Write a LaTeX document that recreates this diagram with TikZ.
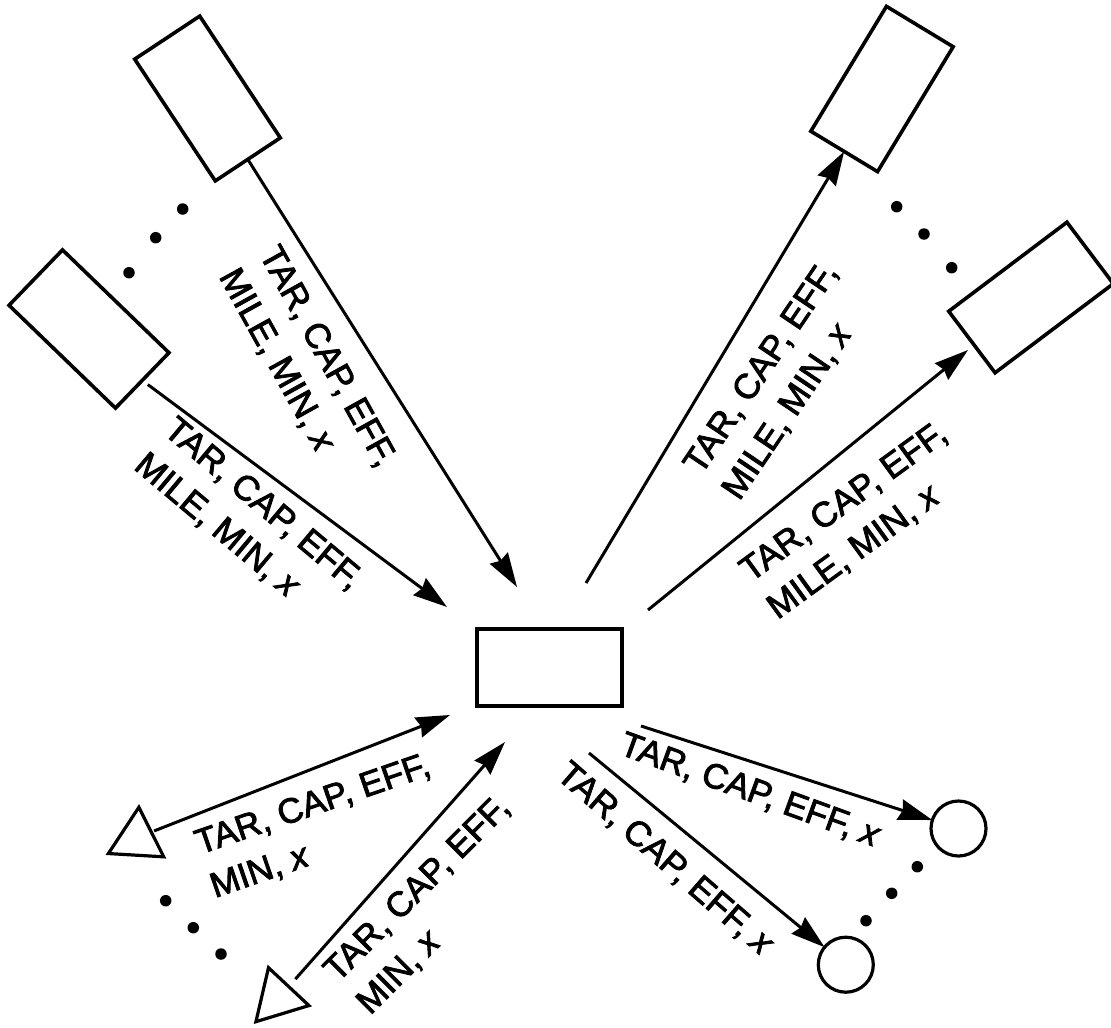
\documentclass[tikz,border=0pt]{standalone}
\usepackage{fontspec}
\setmainfont{Liberation Sans}
\newfontfamily\labfont{Liberation Sans}[FakeBold=2.4]
\usetikzlibrary{arrows.meta,shapes.geometric}
\begin{document}
\begin{tikzpicture}[x=1pt,y=-1pt,
  box/.style={draw,line width=3.6pt,minimum width=146pt,minimum height=78pt,inner sep=0pt,outer sep=0pt},
  tri/.style={draw,line width=3.2pt,regular polygon,regular polygon sides=3,minimum size=64pt,inner sep=0pt,outer sep=0pt},
  sink/.style={draw,line width=3.2pt,circle,minimum size=55pt,inner sep=0pt,outer sep=0pt},
  dot/.style={fill,circle,minimum size=11.5pt,inner sep=0pt},
  conn/.style={line width=3pt,-{Stealth[length=34pt,width=21pt,inset=3pt]}},
  lab/.style={font=\labfont\fontsize{35}{46}\selectfont,align=left,inner sep=0pt}]
\useasboundingbox (0,0) rectangle (1111,1028);
% boxes
\node[box,rotate=-56.5] (tl) at (207.5,98.5) {};
\node[box,rotate=-44,minimum width=148pt,minimum height=77pt] (lr) at (89,329) {};
\node[box,rotate=58.8] (tr) at (882,89) {};
\node[box,rotate=37,minimum width=148pt,minimum height=77pt] (rr) at (1031,297.5) {};
\node[box,minimum width=145pt,minimum height=77pt] (hub) at (549.5,667.5) {};
\node[tri,rotate=-3.4] (t1) at (137,839.2) {};
\node[tri,rotate=16.9] (t2) at (277.8,998.3) {};
\node[sink] (c1) at (958.5,828.5) {};
\node[sink] (c2) at (845.8,964.7) {};
% dots
\node[dot] (d1) at (182.7,209) {};
\node[dot] (d2) at (155.7,237.7) {};
\node[dot] (d3) at (129,272.7) {};
\node[dot] (d4) at (896.7,206.7) {};
\node[dot] (d5) at (924,234) {};
\node[dot] (d6) at (951.7,267.7) {};
\node[dot] (d7) at (165.7,900.7) {};
\node[dot] (d8) at (193.3,927.7) {};
\node[dot] (d9) at (221,954) {};
\node[dot] (d10) at (917.3,866.7) {};
\node[dot] (d11) at (891.7,893.3) {};
\node[dot] (d12) at (866,920.7) {};
% free ends
\coordinate (tlEnd) at (517,587);
\coordinate (lrEnd) at (447,607);
\coordinate (trStart) at (586,583);
\coordinate (rrStart) at (648,610);
\coordinate (rrEnd) at (968,350);
\coordinate (t1End) at (450,715);
\coordinate (t2End) at (505,742);
\coordinate (c1Start) at (641,726);
\coordinate (c2Start) at (589,753);
% connectors
\draw[conn] (tl.east) -- (tlEnd);
\draw[conn,shorten <=7pt] (lr.east) -- (lrEnd);
\draw[conn] (trStart) -- (tr.west);
\draw[conn] (rrStart) -- (rrEnd);
\draw[conn,shorten <=3pt] (t1.side 3) -- (t1End);
\draw[conn,shorten <=10pt] (t2.side 3) -- (t2End);
\draw[conn] (c1Start) -- (c1);
\draw[conn] (c2Start) -- (c2);
% labels
\node[lab,rotate=-61] (la) at (307,368) {TAR, CAP, EFF,\\MILE, MIN, \textit{x}};
\node[lab,rotate=-40] (lb) at (248,522) {TAR, CAP, EFF,\\MILE, MIN, \textit{x}};
\node[lab,rotate=56] (lc) at (780.7,381.3) {TAR, CAP, EFF,\\MILE, MIN, \textit{x}};
\node[lab,rotate=36] (ld) at (857.7,521.1) {TAR, CAP, EFF,\\MILE, MIN, \textit{x}};
\node[lab,rotate=19] (le) at (320.5,826.8) {TAR, CAP, EFF,\\MIN, \textit{x}};
\node[lab,rotate=45] (lf) at (433.8,905.5) {TAR, CAP, EFF,\\MIN, \textit{x}};
\node[lab,rotate=-20] (lg) at (750,791) {TAR, CAP, EFF, \textit{x}};
\node[lab,rotate=-41] (lh) at (665,859.5) {TAR, CAP, EFF, \textit{x}};
\end{tikzpicture}
\end{document}
